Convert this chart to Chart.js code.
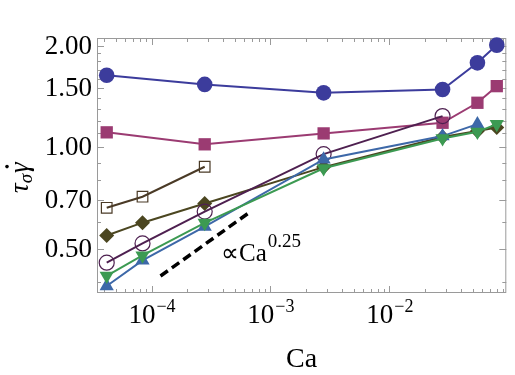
<!DOCTYPE html>
<html>
<head>
<meta charset="utf-8">
<script src="https://cdn.jsdelivr.net/npm/chart.js@4"></script>
<style>
  body { margin: 0; background: #fff; }
  #wrap { width: 515px; height: 375px; }
</style>
</head>
<body>
<div id="wrap"><canvas id="myChart" width="515" height="375"></canvas></div>
<script>
// capillary number values (shared x positions)
const ca = [4.2e-5, 8.4e-5, 2.8e-4, 2.8e-3, 2.8e-2, 5.5e-2, 8.0e-2];

// tau_sigma * gamma-dot, one array per series (null = no point)
const filledCircles = [1.637, null, 1.537, 1.451, 1.485, 1.781, 2.010];
const filledSquares = [1.108, null, 1.021, 1.100, 1.183, 1.356, 1.519];
const openSquares   = [0.662, 0.714, 0.876, null, null, null, null];
const diamonds      = [0.548, 0.598, 0.682, 0.874, 1.073, 1.118, 1.146];
const openCircles   = [0.455, 0.519, 0.645, 0.955, 1.238, null, null];
const upTriangles   = [0.388, 0.462, 0.582, 0.921, 1.080, 1.172, null];
const downTriangles = [0.416, 0.478, 0.597, 0.867, 1.063, 1.112, 1.172];

// slope guide  ~ Ca^0.25
const guideCa = [1.19e-4, 6.56e-4];
const guideY  = [0.4155, 0.639];

// axis ticks
const yMajor = [0.5, 0.7, 1.0, 1.5, 2.0];
const yTickLabels = ['0.50', '0.70', '1.00', '1.50', '2.00'];
const yMinor = [0.4, 0.6, 0.8, 0.9, 1.1, 1.2, 1.3, 1.4, 1.6, 1.7, 1.8, 1.9];
const xMajor = [1e-4, 1e-3, 1e-2];
const xTickExp = ['\u22124', '\u22123', '\u22122'];
const xMinor = [4e-5, 5e-5, 6e-5, 7e-5, 8e-5, 9e-5,
                2e-4, 3e-4, 4e-4, 5e-4, 6e-4, 7e-4, 8e-4, 9e-4,
                2e-3, 3e-3, 4e-3, 5e-3, 6e-3, 7e-3, 8e-3, 9e-3,
                2e-2, 3e-2, 4e-2, 5e-2, 6e-2, 7e-2, 8e-2, 9e-2];

function pts(vals) {
    return ca.map((c, i) => ({ x: c, y: vals[i] }));
}

const serif = '"Liberation Serif", "Times New Roman", serif';

const series = [
    { data: filledCircles, color: '#3c3c9c', style: 'circle', r: 7.8, fill: true },
    { data: filledSquares, color: '#9b3b72', style: 'rect', r: 8.7, fill: true },
    { data: openSquares, color: '#4a3a26', style: 'rect', r: 7.5, fill: false },
    { data: diamonds, color: '#4b4620', style: 'rectRot', r: 7.5, fill: true },
    { data: openCircles, color: '#4e2050', style: 'circle', r: 7.5, fill: false },
    { data: upTriangles, color: '#3d68a8', style: 'triangle', r: 8.2, fill: true },
    { data: downTriangles, color: '#3c9a52', style: 'triangle', r: 8.2, fill: true, rot: 180 }
];

const datasets = series.map((s, i) => ({
    data: pts(s.data),
    borderColor: s.color,
    borderWidth: 2,
    backgroundColor: s.color,
    pointStyle: s.style,
    pointRadius: s.r,
    pointRotation: s.rot || 0,
    pointBackgroundColor: s.fill ? s.color : 'rgba(0,0,0,0)',
    pointBorderColor: s.color,
    pointBorderWidth: s.fill ? 0 : 1.2,
    spanGaps: true,
    clip: false,
    order: series.length - i
}));

datasets.push({
    data: guideCa.map((c, i) => ({ x: c, y: guideY[i] })),
    borderColor: '#000',
    borderWidth: 3.5,
    borderDash: [9, 5],
    pointRadius: 0,
    order: 20
});

const axisDecor = {
    id: 'axisDecor',
    beforeDatasetsDraw(chart) {
        const ctx = chart.ctx;
        const a = chart.chartArea;
        const xs = chart.scales.x, ys = chart.scales.y;
        ctx.save();
        ctx.strokeStyle = '#9a9a9a';
        ctx.lineWidth = 1;
        ctx.strokeRect(a.left + 0.5, a.top + 0.5, a.right - a.left - 1, a.bottom - a.top - 1);
        ctx.beginPath();
        const tick = (vals, len, isX) => {
            vals.forEach(v => {
                if (isX) {
                    const p = Math.round(xs.getPixelForValue(v)) + 0.5;
                    ctx.moveTo(p, a.bottom); ctx.lineTo(p, a.bottom - len);
                    ctx.moveTo(p, a.top); ctx.lineTo(p, a.top + len);
                } else {
                    const p = Math.round(ys.getPixelForValue(v)) + 0.5;
                    ctx.moveTo(a.left, p); ctx.lineTo(a.left + len, p);
                    ctx.moveTo(a.right, p); ctx.lineTo(a.right - len, p);
                }
            });
        };
        tick(xMajor, 7, true);
        tick(xMinor, 4, true);
        tick(yMajor, 7, false);
        tick(yMinor, 4, false);
        ctx.stroke();
        ctx.restore();
    },
    afterDraw(chart) {
        const ctx = chart.ctx;
        const a = chart.chartArea;
        const xs = chart.scales.x, ys = chart.scales.y;
        ctx.save();
        ctx.fillStyle = '#000';

        // y tick labels
        ctx.font = '27px ' + serif;
        ctx.textAlign = 'right';
        ctx.textBaseline = 'middle';
        yMajor.forEach((v, i) => {
            ctx.fillText(yTickLabels[i], a.left - 5, ys.getPixelForValue(v) + 1);
        });

        // x tick labels: 10^n
        ctx.textBaseline = 'alphabetic';
        ctx.textAlign = 'left';
        xMajor.forEach((v, i) => {
            ctx.font = '27px ' + serif;
            const wBase = ctx.measureText('10').width;
            ctx.font = '18px ' + serif;
            const wExp = ctx.measureText(xTickExp[i]).width;
            const x0 = xs.getPixelForValue(v) - (wBase + wExp) / 2;
            ctx.font = '27px ' + serif;
            ctx.fillText('10', x0, 323);
            ctx.font = '18px ' + serif;
            ctx.fillText(xTickExp[i], x0 + wBase + 1, 312);
        });

        // x title
        ctx.font = '28px ' + serif;
        ctx.textAlign = 'center';
        ctx.fillText('Ca', (a.left + a.right) / 2, 367);

        // slope annotation
        ctx.textAlign = 'left';
        ctx.font = '25px ' + serif;
        ctx.fillText('\u221DCa', 221, 261);
        const wa = ctx.measureText('\u221DCa').width;
        ctx.font = '19px ' + serif;
        ctx.fillText('0.25', 221 + wa + 1, 247);

        // y title: tau_sigma gamma-dot, rotated
        ctx.translate(28, 193);
        ctx.rotate(-Math.PI / 2);
        ctx.font = 'italic 27px ' + serif;
        ctx.fillText('\u03C4', 0, 0);
        let w = ctx.measureText('\u03C4').width;
        ctx.font = 'italic 19px ' + serif;
        ctx.fillText('\u03C3', w, 4);
        w += ctx.measureText('\u03C3').width + 1;
        ctx.font = 'italic 27px ' + serif;
        ctx.fillText('\u03B3', w, 0);
        const wg = ctx.measureText('\u03B3').width;
        ctx.beginPath();
        ctx.arc(w + wg * 0.6, -21, 1.8, 0, Math.PI * 2);
        ctx.fill();
        ctx.restore();
    }
};

const ctx = document.getElementById('myChart').getContext('2d');
const myChart = new Chart(ctx, {
    type: 'line',
    data: { datasets: datasets },
    options: {
        responsive: false,
        animation: false,
        layout: { padding: { left: 97, top: 38, right: 5, bottom: 82 } },
        plugins: { legend: { display: false }, tooltip: { enabled: false } },
        scales: {
            x: { type: 'logarithmic', min: 3.48e-5, max: 0.0962, display: false },
            y: { type: 'logarithmic', min: 0.37, max: 2.11, display: false }
        }
    },
    plugins: [axisDecor]
});
</script>
</body>
</html>
